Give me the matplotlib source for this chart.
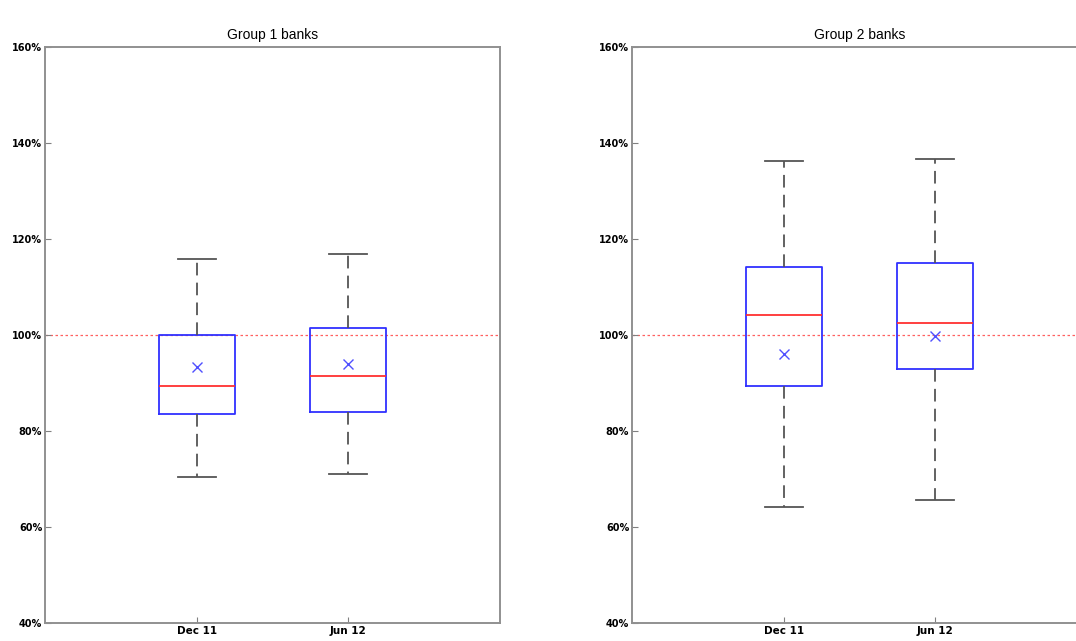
import matplotlib
matplotlib.use("Agg")
import matplotlib.pyplot as plt

# values (percent)
periods = ["Dec 11", "Jun 12"]
group_titles = ["Group 1 banks", "Group 2 banks"]

g1_whislo = [70.4, 71.0]
g1_q1 = [83.6, 84.0]
g1_med = [89.4, 91.5]
g1_q3 = [100.0, 101.5]
g1_whishi = [115.8, 116.9]
g1_mean = [93.4, 94.0]

g2_whislo = [64.1, 65.6]
g2_q1 = [89.3, 93.0]
g2_med = [104.1, 102.6]
g2_q3 = [114.2, 115.1]
g2_whishi = [136.3, 136.7]
g2_mean = [96.0, 99.8]

yticks = [40, 60, 80, 100, 120, 140, 160]
ref_level = 100

label_font = ["Liberation Sans Narrow", "DejaVu Sans"]


def make_stats(lo, q1, med, q3, hi, mean):
    stats = []
    for i in range(len(periods)):
        stats.append({"whislo": lo[i], "q1": q1[i], "med": med[i], "q3": q3[i],
                      "whishi": hi[i], "mean": mean[i], "label": periods[i]})
    return stats


fig = plt.figure(figsize=(10.76, 6.41), dpi=100)
ax1 = fig.add_axes([45 / 1076, 18 / 641, 455 / 1076, 576 / 641])
ax2 = fig.add_axes([632 / 1076, 18 / 641, 455 / 1076, 576 / 641])

data = [make_stats(g1_whislo, g1_q1, g1_med, g1_q3, g1_whishi, g1_mean),
        make_stats(g2_whislo, g2_q1, g2_med, g2_q3, g2_whishi, g2_mean)]

for ax, stats, title in zip([ax1, ax2], data, group_titles):
    ax.axhline(ref_level, color="#ff6060", lw=0.9, ls=(0, (2, 2)), zorder=1)
    ax.bxp(stats, positions=[1, 2], widths=0.5, showmeans=True, showfliers=False,
           boxprops=dict(color="#3030ff", lw=1.3),
           medianprops=dict(color="#ff3030", lw=1.3),
           whiskerprops=dict(color="#555555", lw=1.3, ls=(0, (7, 4))),
           capprops=dict(color="#555555", lw=1.3),
           capwidths=0.25,
           meanprops=dict(marker="x", markeredgecolor="#5050ff", markersize=7,
                          markeredgewidth=1.0))
    ax.set_xlim(0, 3)
    ax.set_ylim(40, 160)
    ax.set_yticks(yticks)
    ax.set_yticklabels([f"{t}%" for t in yticks], fontfamily=label_font,
                       fontweight="bold", fontsize=7)
    ax.set_xticks([1, 2])
    ax.set_xticklabels(periods, fontfamily=label_font, fontweight="bold", fontsize=7.5)
    ax.tick_params(direction="in", length=4, color="#808080", width=0.8, pad=2)
    for s in ax.spines.values():
        s.set_color("#909090")
        s.set_linewidth(1.4)
    ax.set_title(title, fontsize=10, fontfamily=["Liberation Sans", "DejaVu Sans"], pad=6)

fig.savefig("out.png", dpi=100)
